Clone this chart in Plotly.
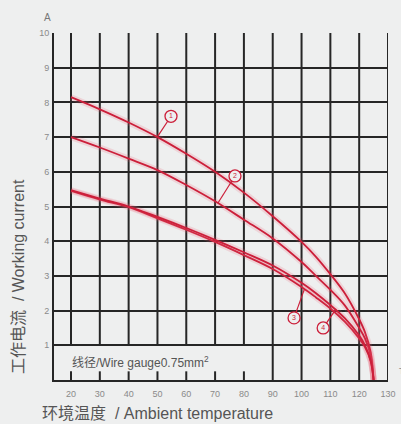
import plotly.graph_objects as go

# Ambient temperature (°C) sample points
temps = [20, 30, 40, 50, 60, 70, 80, 90, 100, 105, 110, 115, 120, 122, 124, 125]

# Working current (A) of the four curves at those temperatures
curve_1 = [8.15, 7.8, 7.42, 7.0, 6.52, 6.0, 5.4, 4.72, 3.98, 3.55, 3.05, 2.5, 1.75, 1.38, 0.8, 0]
curve_2 = [7.0, 6.7, 6.38, 6.05, 5.62, 5.15, 4.62, 4.08, 3.4, 3.0, 2.6, 2.15, 1.5, 1.2, 0.7, 0]
curve_3 = [5.45, 5.2, 4.98, 4.66, 4.33, 3.98, 3.6, 3.2, 2.68, 2.38, 2.06, 1.68, 1.2, 0.95, 0.55, 0]
curve_4 = [5.47, 5.23, 5.0, 4.7, 4.38, 4.04, 3.68, 3.3, 2.8, 2.5, 2.16, 1.78, 1.28, 1.0, 0.55, 0]

# callout labels: circle position and point on the curve it points to
label_text = ["1", "2", "3", "4"]
label_t = [54.7, 76.9, 97.4, 107.5]
label_i = [7.6, 5.88, 1.79, 1.5]
target_t = [49.9, 71.0, 101.0, 112.0]
target_i = [7.0, 5.1, 2.62, 2.05]

x_ticks = [20, 30, 40, 50, 60, 70, 80, 90, 100, 110, 120, 130]
y_ticks = [1, 2, 3, 4, 5, 6, 7, 8, 9, 10]

BG = "#eeefef"
GRID = "#262626"
RED = "#cc1f3a"
FONT = "Liberation Sans, Noto Sans CJK SC, sans-serif"

W, H = 401, 424
pl, pr, pt, pb = 54, 13, 33, 44
pw, ph = W - pl - pr, H - pt - pb


def px_ann(text, x, y, size, color="#8a8a8a", angle=0, xanchor="center"):
    # annotation placed by pixel position on the page
    return dict(text=text, xref="paper", yref="paper",
                x=(x - pl) / pw, y=1 - (y - pt) / ph,
                xanchor=xanchor, yanchor="middle", showarrow=False,
                textangle=angle, font=dict(size=size, color=color))


fig = go.Figure()

# vertical grid lines (short ones stop at 1 A to leave room for the note)
shapes = []
for t in x_ticks:
    y0 = 1 if t <= 80 else 0
    shapes.append(dict(type="line", xref="x", yref="y", x0=t, x1=t, y0=y0, y1=10,
                       line=dict(color=GRID, width=2), layer="below"))
    if t <= 80:
        shapes.append(dict(type="line", xref="x", yref="y", x0=t, x1=t, y0=0, y1=0.25,
                           line=dict(color=GRID, width=2), layer="below"))

for ys in [curve_1, curve_2, curve_3, curve_4]:
    # soft pink halo like the scanned original
    fig.add_trace(go.Scatter(x=temps, y=ys, mode="lines", line_shape="spline",
                             line=dict(color="rgba(235,90,110,0.18)", width=6),
                             hoverinfo="skip", showlegend=False))
    fig.add_trace(go.Scatter(x=temps, y=ys, mode="lines", line_shape="spline",
                             line=dict(color=RED, width=1.8), showlegend=False))

# leader lines
for lt, li, tt, ti in zip(label_t, label_i, target_t, target_i):
    fig.add_trace(go.Scatter(x=[lt, tt], y=[li, ti], mode="lines",
                             line=dict(color=RED, width=1.2), showlegend=False,
                             hoverinfo="skip"))

fig.add_trace(go.Scatter(
    x=label_t, y=label_i, mode="markers+text", text=label_text,
    textposition="middle center",
    textfont=dict(size=7, color=RED, family=FONT),
    marker=dict(symbol="circle", size=12, color=BG, line=dict(color=RED, width=1.3)),
    showlegend=False,
))

fig.update_layout(
    width=W, height=H,
    margin=dict(l=pl, r=pr, t=pt, b=pb),
    paper_bgcolor=BG, plot_bgcolor=BG,
    font=dict(family=FONT, color="#555"),
    shapes=shapes,
    xaxis=dict(range=[14.1, 130], tickvals=x_ticks, showgrid=False, zeroline=False,
               showline=True, linecolor=GRID, linewidth=2, ticks="",
               tickfont=dict(size=9, color="#8a8a8a"), ticklabelstandoff=4,
               automargin=False),
    yaxis=dict(range=[0, 10], tickvals=y_ticks, showgrid=True, gridcolor=GRID,
               gridwidth=2, zeroline=False, showline=True, linecolor=GRID,
               linewidth=2, ticks="", tickfont=dict(size=9, color="#8a8a8a"),
               ticklabelstandoff=1, automargin=False),
    annotations=[
        px_ann("A", 47, 18, 10, color="#777"),
        px_ann("T", 397, 371, 9, xanchor="left"),
        dict(text="线径/Wire gauge0.75mm<sup>2</sup>", x=19.5, y=0.52, xref="x", yref="y",
             xanchor="left", yanchor="middle", showarrow=False,
             font=dict(size=12, color="#555")),
        px_ann("环境温度  / Ambient temperature", 40, 413, 16, color="#555", xanchor="left"),
        px_ann("工作电流  / Working current", 18, 277, 16, color="#555", angle=-90),
    ],
)

fig.write_html("out.html", config={"displayModeBar": False},
               post_script="document.body.style.margin='0';")
